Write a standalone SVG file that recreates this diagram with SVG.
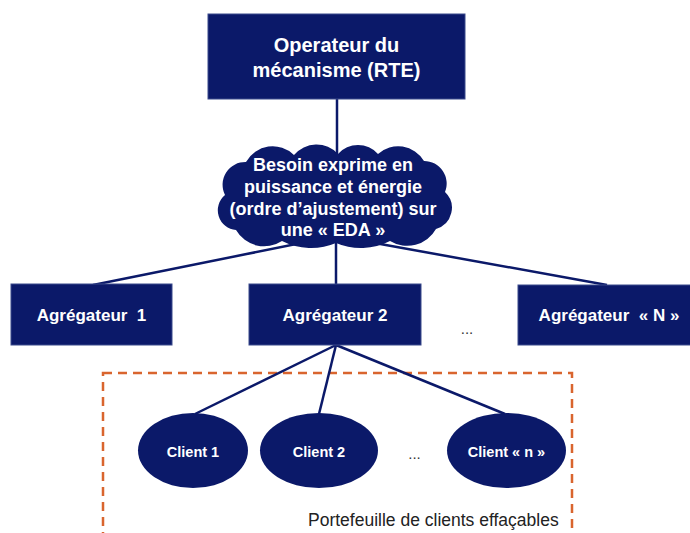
<svg xmlns="http://www.w3.org/2000/svg" width="690" height="533" viewBox="0 0 690 533">
<style>
.node{fill:#0b1969;stroke:#3b4a8c;stroke-width:1}
.cl{fill:#0b1969}
.t{font-family:"Liberation Sans",Arial,sans-serif;font-weight:bold;fill:#ffffff;text-anchor:middle}
.conn line{stroke:#0b1969;stroke-width:2.5}
.dots{font-family:"Liberation Sans",Arial,sans-serif;font-size:15px;fill:#333333;text-anchor:middle}
</style>
<rect width="690" height="533" fill="#ffffff"/>
<g id="portefeuille">
<rect x="103" y="373" width="469" height="200" fill="none" stroke="#d9652e" stroke-width="2.5" stroke-dasharray="9,6"/>
<text x="308" y="526" font-family="Liberation Sans,Arial,sans-serif" font-size="17.5" fill="#222222">Portefeuille de clients effaçables</text>
</g>
<g class="conn" id="connectors">
<line x1="337" y1="99" x2="337" y2="160"/>
<line x1="336" y1="236" x2="93" y2="285"/>
<line x1="336" y1="236" x2="336" y2="285"/>
<line x1="336" y1="236" x2="607" y2="285"/>
<line x1="336" y1="345" x2="195" y2="414"/>
<line x1="336" y1="345" x2="319" y2="414"/>
<line x1="336" y1="345" x2="505" y2="414"/>
</g>
<g id="rte">
<rect class="node" x="208" y="14" width="257" height="85"/>
<text class="t" x="336.5" y="52" font-size="20">Operateur du</text>
<text class="t" x="336.5" y="77" font-size="20">mécanisme (RTE)</text>
</g>
<g id="besoin">
<path class="cl" d="M225 195 A22.8 22.8 0 0 1 246 162 A30.5 30.5 0 0 1 294 155 A29.2 29.2 0 0 1 338 154 A26.7 26.7 0 0 1 378 154 A30 30 0 0 1 424 161 A22.5 22.5 0 0 1 445 192 A21.9 21.9 0 0 1 436 229 A33 33 0 0 1 390 241 A63.7 63.7 0 0 1 336 243 A64 64 0 0 1 282 241 A32.6 32.6 0 0 1 236 230 A19.8 19.8 0 0 1 225 195 Z"/>
<text class="t" x="333" y="171" font-size="18">Besoin exprime en</text>
<text class="t" x="333" y="193" font-size="18">puissance et énergie</text>
<text class="t" x="333" y="215" font-size="18">(ordre d’ajustement) sur</text>
<text class="t" x="333" y="236" font-size="18">une « EDA »</text>
</g>
<g id="agg1">
<rect class="node" x="11" y="284" width="161" height="61"/>
<text class="t" x="91.5" y="321" font-size="17">Agrégateur&#160; 1</text>
</g>
<g id="agg2">
<rect class="node" x="249" y="284" width="172" height="61"/>
<text class="t" x="335" y="321" font-size="17">Agrégateur 2</text>
</g>
<text class="dots" x="467" y="334">...</text>
<g id="aggN">
<rect class="node" x="518" y="285" width="182" height="60"/>
<text class="t" x="609" y="321" font-size="17">Agrégateur&#160; « N »</text>
</g>
<g id="client1">
<ellipse class="cl" cx="193" cy="450.5" rx="55" ry="37.5"/>
<text class="t" x="193" y="457" font-size="14.5">Client 1</text>
</g>
<g id="client2">
<ellipse class="cl" cx="319" cy="450.5" rx="59" ry="37.5"/>
<text class="t" x="319" y="457" font-size="14.5">Client 2</text>
</g>
<text class="dots" x="414.5" y="459">...</text>
<g id="clientn">
<ellipse class="cl" cx="506.5" cy="450.5" rx="59.5" ry="37.5"/>
<text class="t" x="506.5" y="457" font-size="14.5">Client « n »</text>
</g>
</svg>
